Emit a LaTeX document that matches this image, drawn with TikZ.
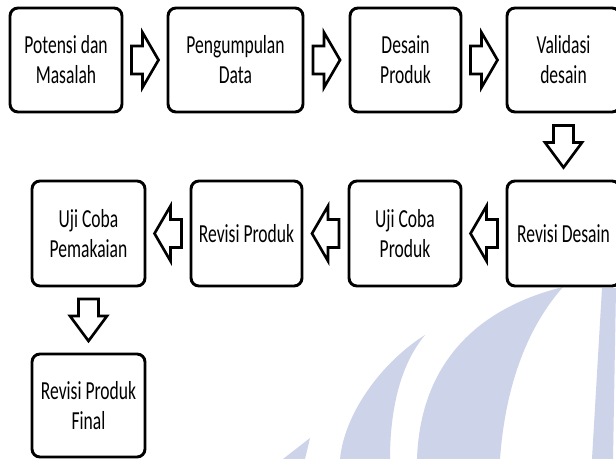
\documentclass[tikz,border=0pt]{standalone}
\usepackage{fontspec}
\newfontfamily\boxfont[FakeStretch=0.675]{Carlito}
\usetikzlibrary{calc}
\definecolor{wm}{RGB}{205,211,232}
\tikzset{
  box/.style={draw=black, line width=2.2pt, rounded corners=6pt, fill=white,
    align=center, inner sep=0pt, font=\boxfont\fontsize{19.5}{22.5}\selectfont},
  bw/.style={minimum width={#1*0.75pt}},
  bh/.style={minimum height={#1*0.75pt}},
  blk/.style={draw=black, line width=2pt, line join=miter, fill=white},
  rarr/.pic={\draw[blk] (-13.5,-14) -- (-2.5,-14) -- (-2.5,-27.5) -- (13.5,0)
     -- (-2.5,27.5) -- (-2.5,14) -- (-13.5,14) -- cycle;},
  larr/.pic={\draw[blk] (13.5,-14) -- (2.5,-14) -- (2.5,-27.5) -- (-13.5,0)
     -- (2.5,27.5) -- (2.5,14) -- (13.5,14) -- cycle;},
  darr/.pic={\draw[blk] (-10,-21) -- (10,-21) -- (10,-4) -- (18.5,-4) -- (0,21)
     -- (-18.5,-4) -- (-10,-4) -- cycle;}
}
\begin{document}
\begin{tikzpicture}[x=0.75pt,y=-0.75pt]
\clip (0,0) rectangle (616,459);
\fill[white] (0,0) rectangle (616,459);
% watermark
\fill[wm] (563,287) .. controls (470,310) and (420,370) .. (417,459)
  -- (500,459) .. controls (505,390) and (525,330) .. (563,287) -- cycle;
\fill[wm] (425,335) .. controls (385,360) and (345,410) .. (340,459)
  -- (390,459) .. controls (390,410) and (400,365) .. (425,335) -- cycle;
\fill[wm] (310,438) -- (283,459) -- (305,459) -- cycle;
\fill[wm] (602,288) -- (616,288) -- (613,459) -- (592,459) -- cycle;
% row 1
\node[box, bw=112, bh=104] (b1) at (66,60) {Potensi dan\\Masalah};
\node[box, bw=135, bh=104] (b2) at (235.5,60) {Pengumpulan\\Data};
\node[box, bw=111, bh=104] (b3) at (405.5,60) {Desain\\Produk};
\node[box, bw=113, bh=104] (b4) at (563.5,60) {Validasi\\desain};
% row 2
\node[box, bw=113, bh=105] (c1) at (88.5,233.5) {Uji Coba\\Pemakaian};
\node[box, bw=111, bh=105] (c2) at (246.5,233.5) {Revisi Produk};
\node[box, bw=112, bh=105] (c3) at (405,233.5) {Uji Coba\\Produk};
\node[box, bw=113, bh=105] (c4) at (563.5,233.5) {Revisi Desain};
% row 3
\node[box, bw=113, bh=103] (d1) at (88.5,405.5) {Revisi Produk\\Final};
% connectors
\coordinate (m1) at ($(b1.east)!0.5!(b2.west)$);
\coordinate (m2) at ($(b2.east)!0.5!(b3.west)$);
\coordinate (m3) at ($(b3.east)!0.5!(b4.west)$);
\coordinate (m4) at ($(b4.south)!0.5!(c4.north)$);
\coordinate (m5) at ($(c4.west)!0.5!(c3.east)$);
\coordinate (m6) at ($(c3.west)!0.5!(c2.east)$);
\coordinate (m7) at ($(c2.west)!0.5!(c1.east)$);
\coordinate (m8) at ($(c1.south)!0.5!(d1.north)$);
\pic at (m1) {rarr};
\pic at (m2) {rarr};
\pic at (m3) {rarr};
\pic at (m4) {darr};
\pic at (m5) {larr};
\pic at (m6) {larr};
\pic at (m7) {larr};
\pic at (m8) {darr};
\end{tikzpicture}
\end{document}
